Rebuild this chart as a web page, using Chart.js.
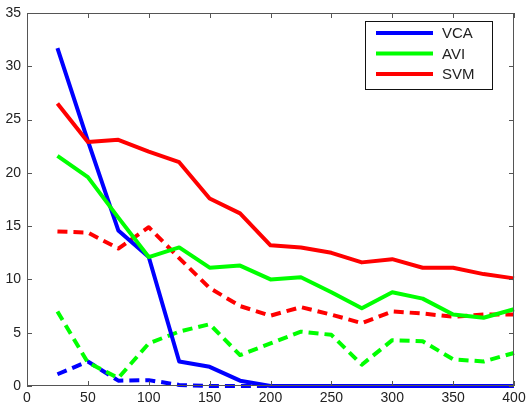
<!DOCTYPE html>
<html>
<head>
<meta charset="utf-8">
<script src="https://cdn.jsdelivr.net/npm/chart.js@4/dist/chart.umd.min.js"></script>
<style>
  body { margin: 0; background: #fff; }
  #wrap { width: 529px; height: 406px; }
</style>
</head>
<body>
<div id="wrap"><canvas id="plot" width="529" height="406"></canvas></div>
<script>
// sample sizes on the x axis
let xValues = [25, 50, 75, 100, 125, 150, 175, 200, 225, 250, 275, 300, 325, 350, 375, 400];

// solid curves
let vcaSolid = [31.7, 23.0, 14.6, 12.1, 2.3, 1.8, 0.5, 0, 0, 0, 0, 0, 0, 0, 0, 0];
let aviSolid = [21.6, 19.6, 15.8, 12.1, 13.0, 11.1, 11.3, 10.0, 10.2, 8.8, 7.3, 8.8, 8.2, 6.7, 6.4, 7.2];
let svmSolid = [26.5, 22.9, 23.1, 22.0, 21.0, 17.6, 16.2, 13.2, 13.0, 12.5, 11.6, 11.9, 11.1, 11.1, 10.5, 10.1];

// dashed curves
let vcaDashed = [1.1, 2.3, 0.5, 0.55, 0.1, 0, 0, 0, 0, 0, 0, 0, 0, 0, 0, 0];
let aviDashed = [7.0, 2.2, 0.75, 4.0, 5.1, 5.8, 2.9, 4.0, 5.1, 4.8, 2.0, 4.3, 4.2, 2.5, 2.3, 3.1];
let svmDashed = [14.5, 14.4, 12.9, 14.9, 12.0, 9.2, 7.5, 6.6, 7.4, 6.7, 5.9, 7.0, 6.8, 6.5, 6.7, 6.7];

let xTicks = [0, 50, 100, 150, 200, 250, 300, 350, 400];
let yTicks = [0, 5, 10, 15, 20, 25, 30, 35];
let legendNames = ['VCA', 'AVI', 'SVM'];

let blue = '#0000ff';
let green = '#00ff00';
let red = '#ff0000';

function toPoints(ys) {
	return ys.map((y, i) => ({x: xValues[i], y: y}));
}

function makeLine(label, ys, color, dashed, order) {
	return {
		label: label,
		data: toPoints(ys),
		borderColor: color,
		backgroundColor: color,
		borderWidth: 4,
		borderDash: dashed ? [10, 6] : [],
		borderJoinStyle: 'round',
		pointRadius: 0,
		tension: 0,
		clip: false,
		order: order
	};
}

// box + inward ticks on all four sides, like matlab axes
let framePlugin = {
	id: 'frame',
	afterDatasetsDraw(chart) {
		let ctx = chart.ctx;
		let a = chart.chartArea;
		let xs = chart.scales.x;
		let ys = chart.scales.y;
		ctx.save();
		ctx.strokeStyle = '#555';
		ctx.lineWidth = 1;
		ctx.strokeRect(a.left + 0.5, a.top + 0.5, a.right - a.left - 1, a.bottom - a.top - 1);
		ctx.beginPath();
		xTicks.forEach(v => {
			let px = Math.round(xs.getPixelForValue(v)) + 0.5;
			ctx.moveTo(px, a.bottom);
			ctx.lineTo(px, a.bottom - 5);
			ctx.moveTo(px, a.top);
			ctx.lineTo(px, a.top + 5);
		});
		yTicks.forEach(v => {
			let py = Math.round(ys.getPixelForValue(v)) + 0.5;
			ctx.moveTo(a.left, py);
			ctx.lineTo(a.left + 5, py);
			ctx.moveTo(a.right, py);
			ctx.lineTo(a.right - 5, py);
		});
		ctx.stroke();
		ctx.restore();
	}
};

// legend box in the top right corner
let legendPlugin = {
	id: 'boxLegend',
	afterDraw(chart) {
		let ctx = chart.ctx;
		let colors = [blue, green, red];
		let bx = 365.5, by = 21.5, bw = 127, bh = 68;
		ctx.save();
		ctx.fillStyle = '#fff';
		ctx.fillRect(bx, by, bw, bh);
		ctx.strokeStyle = '#111';
		ctx.lineWidth = 1;
		ctx.strokeRect(bx, by, bw, bh);
		ctx.font = '15px "Liberation Sans", Arial, sans-serif';
		ctx.textBaseline = 'middle';
		legendNames.forEach((name, i) => {
			let y = 33 + i * 20.5;
			ctx.strokeStyle = colors[i];
			ctx.lineWidth = 4;
			ctx.beginPath();
			ctx.moveTo(376, y);
			ctx.lineTo(433, y);
			ctx.stroke();
			ctx.fillStyle = '#222';
			ctx.fillText(name, 442, y + 1);
		});
		ctx.restore();
	}
};

let tickFont = {family: '"Liberation Sans", Arial, sans-serif', size: 14};

let chartObject = {
	type: 'line',
	data: {
		datasets: [
			makeLine(legendNames[0], vcaSolid, blue, false, 3),
			makeLine(legendNames[1], aviSolid, green, false, 2),
			makeLine(legendNames[2], svmSolid, red, false, 1),
			makeLine(legendNames[0] + ' (dashed)', vcaDashed, blue, true, 6),
			makeLine(legendNames[1] + ' (dashed)', aviDashed, green, true, 5),
			makeLine(legendNames[2] + ' (dashed)', svmDashed, red, true, 4)
		]
	},
	options: {
		responsive: false,
		animation: false,
		layout: {padding: {top: 13, right: 15, left: 0, bottom: 0}},
		plugins: {
			legend: {display: false},
			tooltip: {enabled: false}
		},
		scales: {
			x: {
				type: 'linear',
				min: 0,
				max: 400,
				grid: {display: false},
				border: {display: false},
				ticks: {stepSize: 50, color: '#222', font: tickFont, padding: -4, maxRotation: 0},
				afterFit: scale => { scale.height = 20; }
			},
			y: {
				type: 'linear',
				min: 0,
				max: 35,
				grid: {display: false},
				border: {display: false},
				ticks: {stepSize: 5, color: '#222', font: tickFont, padding: -2},
				afterFit: scale => { scale.width = 27; }
			}
		}
	},
	plugins: [framePlugin, legendPlugin]
};

let chart = new Chart(document.getElementById('plot').getContext('2d'), chartObject);
</script>
</body>
</html>
